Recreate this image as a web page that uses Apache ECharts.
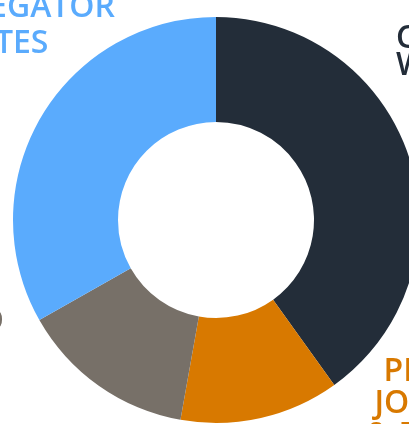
<!DOCTYPE html>
<html>
<head>
<meta charset="utf-8">
<script src="https://cdn.jsdelivr.net/npm/echarts@6/dist/echarts.min.js"></script>
<style>
html,body{margin:0;padding:0;background:#ffffff;}
#chart{width:409px;height:424px;}
</style>
</head>
<body>
<div id="chart"></div>
<script>
const categories = ['COMPANY\nWEBSITES', 'PRIVATE\nJOB SITES\n& BOARDS', 'REFERRED', 'AGGREGATOR\nSITES'];
const shares = [40.1, 12.7, 14.0, 33.2];
const colors = ['#232d39', '#d87900', '#777068', '#5aabfd'];

const labelPlacement = [
  {x: 396, y: 52, align: 'left', verticalAlign: 'middle', lineHeight: 27},
  {x: 447, y: 404, align: 'center', verticalAlign: 'middle', lineHeight: 32},
  {x: 4, y: 322, align: 'right', verticalAlign: 'middle', lineHeight: 32},
  {x: 8, y: 26, align: 'center', verticalAlign: 'middle', lineHeight: 36}
];

const chart = echarts.init(document.getElementById('chart'), null, {renderer: 'canvas'});
chart.setOption({
  animation: false,
  backgroundColor: '#ffffff',
  series: [{
    type: 'pie',
    center: [216, 220],
    radius: [98, 203],
    startAngle: 90,
    clockwise: true,
    avoidLabelOverlap: false,
    labelLine: {show: false},
    itemStyle: {borderWidth: 0},
    emphasis: {disabled: true},
    label: {
      show: true,
      position: 'outside',
      fontFamily: 'Open Sans',
      fontWeight: 600,
      fontSize: 32
    },
    labelLayout: function (params) {
      const p = labelPlacement[params.dataIndex];
      return {x: p.x, y: p.y, align: p.align, verticalAlign: p.verticalAlign, hideOverlap: false};
    },
    data: categories.map(function (name, i) {
      return {
        name: name,
        value: shares[i],
        itemStyle: {color: colors[i]},
        label: {color: colors[i], lineHeight: labelPlacement[i].lineHeight, align: labelPlacement[i].align}
      };
    })
  }]
});
</script>
</body>
</html>
